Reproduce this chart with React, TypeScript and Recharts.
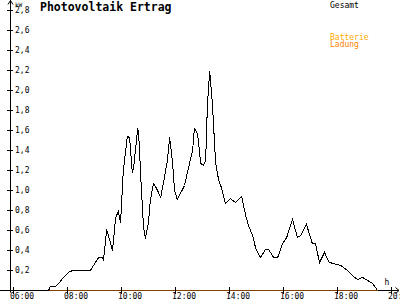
import { LineChart, Line, XAxis, YAxis } from 'recharts';

// Gesamt (kW)
const gesamtTimes = [
  '07:18', '07:22', '07:33', '07:44', '07:51', '08:02', '08:11', '08:51', '09:02', '09:09',
  '09:18', '09:20', '09:27', '09:31', '09:40', '09:47', '09:53', '09:58', '10:04', '10:13',
  '10:18', '10:24', '10:27', '10:36', '10:38', '10:44', '10:49', '10:53', '11:00', '11:04',
  '11:11', '11:18', '11:27', '11:33', '11:42', '11:47', '11:53', '11:58', '12:04', '12:11',
  '12:20', '12:29', '12:38', '12:42', '12:49', '12:56', '13:02', '13:07', '13:11', '13:16',
  '13:22', '13:29', '13:36', '13:42', '13:51', '14:02', '14:13', '14:27', '14:36', '14:42',
  '14:53', '14:58', '15:09', '15:20', '15:27', '15:38', '15:47', '15:58', '16:07', '16:20',
  '16:31', '16:38', '16:51', '17:04', '17:11', '17:20', '17:31', '17:42', '17:51', '18:07',
  '18:22', '18:33', '18:44', '18:56', '19:07', '19:18', '19:29',
];
const gesamtValues = [
  0.0, 0.04, 0.04, 0.09, 0.13, 0.18, 0.2, 0.2, 0.28, 0.33,
  0.33, 0.3, 0.61, 0.55, 0.4, 0.73, 0.79, 0.68, 1.2, 1.54,
  1.53, 1.18, 1.23, 1.62, 1.58, 1.03, 0.63, 0.52, 0.68, 0.9,
  1.07, 1.02, 0.93, 1.07, 1.3, 1.53, 1.3, 1.0, 0.91, 0.97,
  1.05, 1.23, 1.4, 1.62, 1.57, 1.27, 1.25, 1.3, 1.87, 2.19,
  1.87, 1.28, 1.1, 1.03, 0.87, 0.92, 0.88, 0.94, 0.75, 0.65,
  0.53, 0.42, 0.33, 0.41, 0.41, 0.33, 0.33, 0.47, 0.53, 0.71,
  0.53, 0.55, 0.66, 0.47, 0.47, 0.28, 0.38, 0.28, 0.27, 0.25,
  0.2, 0.15, 0.11, 0.13, 0.1, 0.07, 0.0,
];

// Batterie Ladung stays at zero all day
const ladungTimes = ['07:18', '19:29'];
const ladungValues = [0, 0];

const xTicks = [6, 8, 10, 12, 14, 16, 18, 20];
const yTicks = [0.2, 0.4, 0.6, 0.8, 1.0, 1.2, 1.4, 1.6, 1.8, 2.0, 2.2, 2.4, 2.6, 2.8];

const toHours = (t: string) => {
  const [h, m] = t.split(':').map(Number);
  return h + m / 60;
};

const gesamtData = gesamtTimes.map((t, i) => ({ t: toHours(t), v: gesamtValues[i] }));
const ladungData = ladungTimes.map((t, i) => ({ t: toHours(t), v: ladungValues[i] }));

const FONT = '"DejaVu Sans Mono", monospace';
const AXIS_X = 10.5;
const AXIS_Y = 290.5;

const fmtHour = (h: number) => `${String(h).padStart(2, '0')}:00`;

const XTick = (props: any) => {
  const { x, payload } = props;
  const px = Math.floor(x) + 0.5;
  return (
    <g>
      <line x1={px} x2={px} y1={AXIS_Y - 3.5} y2={AXIS_Y + 3.5} stroke="#000" />
      <text x={px - 3.5} y={298.5} fontSize={8} fontFamily={FONT} fill="#000">
        {fmtHour(payload.value)}
      </text>
    </g>
  );
};

const YTick = (props: any) => {
  const { y, payload } = props;
  const py = Math.floor(y) + 0.5;
  return (
    <g>
      <line x1={AXIS_X - 3.5} x2={AXIS_X + 2.5} y1={py} y2={py} stroke="#000" />
      <text x={15} y={py} dominantBaseline="central" fontSize={8} fontFamily={FONT} fill="#000">
        {payload.value.toFixed(1).replace('.', ',')}
      </text>
    </g>
  );
};

export default function App() {
  return (
    <div style={{ position: 'absolute', left: 0, top: 0, width: 400, height: 300, background: '#fff' }}>
      {/* axis lines, arrows and labels sit under the chart so the orange series covers the x axis */}
      <svg width={400} height={300} style={{ position: 'absolute', left: 0, top: 0 }}>
        <line x1={0} x2={399} y1={AXIS_Y} y2={AXIS_Y} stroke="#000" />
        <line x1={AXIS_X} x2={AXIS_X} y1={0} y2={AXIS_Y + 2} stroke="#000" />
        <path d={`M${AXIS_X - 2.5},4.5 L${AXIS_X},0.5 L${AXIS_X + 2.5},4.5`} stroke="#000" fill="none" />
        <path d="M395.5,287.5 L399,290.5 L395.5,293.5" stroke="#000" fill="none" />
        <text x={15} y={6.5} fontSize={6} fontFamily={FONT} fill="#000">kW</text>
        <text x={384.5} y={285} fontSize={8} fontFamily={FONT} fill="#000">h</text>
        <text x={40} y={10.5} fontSize={11.5} fontWeight="bold" fontFamily={FONT} fill="#000">
          Photovoltaik Ertrag
        </text>
        <text x={330} y={7.5} fontSize={8} fontFamily={FONT} fill="#000">Gesamt</text>
        <text x={330} y={39.5} fontSize={8} fontFamily={FONT} fill="#ffaa00">Batterie</text>
        <text x={330} y={47} fontSize={8} fontFamily={FONT} fill="#ff8000">Ladung</text>
      </svg>
      <div style={{ position: 'absolute', left: 0, top: 0 }}>
        <LineChart
          width={400}
          height={300}
          data={gesamtData}
          margin={{ top: 2.5, right: 2, bottom: 0, left: 9.5 }}
        >
          <XAxis
            dataKey="t"
            type="number"
            domain={[5.889, 20.24]}
            ticks={xTicks}
            height={9.5}
            tickLine={false}
            axisLine={false}
            tick={<XTick />}
            interval={0}
            allowDataOverflow
          />
          <YAxis
            type="number"
            domain={[0, 2.88]}
            ticks={yTicks}
            width={1}
            tickLine={false}
            axisLine={false}
            tick={<YTick />}
            interval={0}
            allowDataOverflow
          />
          <Line
            data={gesamtData}
            dataKey="v"
            type="linear"
            stroke="#000"
            strokeWidth={1}
            shapeRendering="crispEdges"
            dot={false}
            isAnimationActive={false}
          />
          <Line
            data={ladungData}
            dataKey="v"
            type="linear"
            stroke="#ff8000"
            strokeWidth={1}
            shapeRendering="crispEdges"
            dot={false}
            isAnimationActive={false}
          />
        </LineChart>
      </div>
    </div>
  );
}
